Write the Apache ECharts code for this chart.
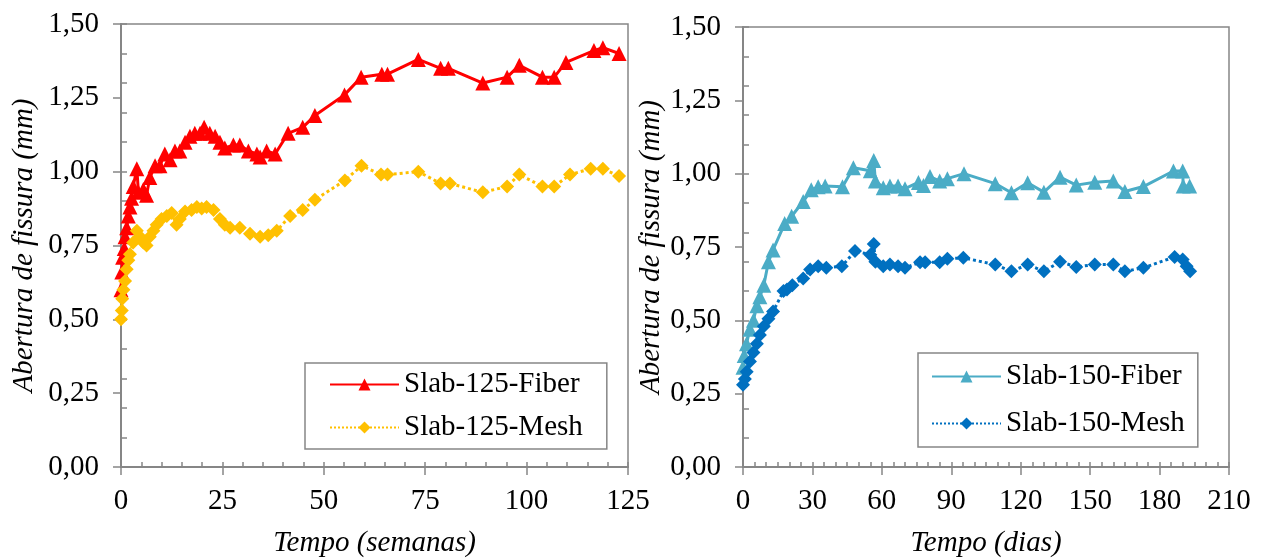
<!DOCTYPE html>
<html>
<head>
<meta charset="utf-8">
<script src="https://cdn.jsdelivr.net/npm/echarts@6/dist/echarts.min.js"></script>
<style>
  html, body { margin: 0; padding: 0; background: #fff; }
  #chart { width: 1264px; height: 558px; }
</style>
</head>
<body>
<div id="chart"></div>
<script>
// Slab-125: crack opening (mm) vs time (weeks)
const weeks125Fiber = [0, 0.2, 0.4, 0.8, 1.0, 1.4, 1.8, 2.2, 2.6, 3.0, 3.9, 4.3, 5.5, 6.3, 7.1, 8.4, 9.6, 10.8, 12.1, 13.3, 14.5, 15.8, 17.0, 18.2, 19.5, 20.5, 21.9, 23.2, 24.4, 25.6, 27.7, 29.3, 31.4, 33.5, 34.3, 35.9, 38.0, 41.2, 44.8, 47.8, 55.1, 59.2, 64.3, 65.7, 73.3, 78.8, 80.7, 89.2, 95.2, 98.2, 103.9, 106.8, 109.7, 116.6, 118.8, 122.8];
const crack125Fiber = [0.60, 0.66, 0.71, 0.74, 0.78, 0.81, 0.85, 0.88, 0.91, 0.95, 1.01, 0.93, 0.94, 0.92, 0.98, 1.02, 1.02, 1.06, 1.04, 1.07, 1.07, 1.10, 1.12, 1.13, 1.13, 1.15, 1.13, 1.12, 1.10, 1.08, 1.09, 1.09, 1.07, 1.06, 1.05, 1.07, 1.06, 1.13, 1.15, 1.19, 1.26, 1.32, 1.33, 1.33, 1.38, 1.35, 1.35, 1.30, 1.32, 1.36, 1.32, 1.32, 1.37, 1.41, 1.42, 1.40];

const weeks125Mesh = [0, 0.2, 0.3, 0.6, 1.0, 1.4, 1.8, 2.2, 3.0, 3.9, 4.7, 5.5, 6.3, 7.1, 8.0, 8.8, 10.0, 11.3, 12.5, 13.7, 14.5, 15.8, 17.4, 18.7, 19.9, 21.1, 22.8, 24.4, 25.6, 26.9, 29.3, 31.8, 34.3, 36.3, 38.4, 41.7, 44.8, 47.8, 55.2, 59.3, 64.1, 65.7, 73.3, 78.8, 81.1, 89.2, 95.2, 98.2, 103.9, 106.8, 110.7, 115.8, 118.8, 122.8];
const crack125Mesh = [0.50, 0.53, 0.57, 0.60, 0.63, 0.67, 0.70, 0.72, 0.76, 0.80, 0.78, 0.76, 0.75, 0.78, 0.80, 0.82, 0.84, 0.85, 0.86, 0.82, 0.84, 0.865, 0.87, 0.88, 0.875, 0.88, 0.87, 0.84, 0.82, 0.81, 0.81, 0.79, 0.78, 0.785, 0.80, 0.85, 0.87, 0.905, 0.97, 1.02, 0.99, 0.99, 1.00, 0.96, 0.96, 0.93, 0.95, 0.99, 0.95, 0.95, 0.99, 1.01, 1.01, 0.985];

// Slab-150: crack opening (mm) vs time (days)
const days150Fiber = [0, 0.5, 1.5, 3.0, 4.5, 6.0, 7.3, 9.0, 11.0, 13.0, 18.0, 21.0, 26.0, 29.5, 32.5, 35.5, 43.0, 47.7, 55.0, 56.5, 57.2, 60.6, 63.5, 67.0, 70.0, 75.8, 78.0, 80.8, 85.0, 88.3, 95.5, 109.0, 116.0, 123.0, 130.0, 137.0, 144.0, 152.0, 160.0, 165.0, 173.0, 186.0, 190.0, 190.2, 193.0];
const crack150Fiber = [0.34, 0.38, 0.42, 0.47, 0.50, 0.55, 0.58, 0.62, 0.70, 0.74, 0.83, 0.855, 0.905, 0.945, 0.955, 0.958, 0.955, 1.02, 1.01, 1.045, 0.975, 0.952, 0.958, 0.958, 0.949, 0.97, 0.96, 0.99, 0.975, 0.983, 1.00, 0.966, 0.935, 0.969, 0.937, 0.988, 0.961, 0.971, 0.975, 0.939, 0.956, 1.009, 1.009, 0.958, 0.958];

const days150Mesh = [0, 0.8, 1.6, 3.0, 4.5, 6.0, 7.3, 9.0, 11.0, 13.0, 17.5, 19.0, 21.3, 26.0, 29.0, 32.5, 36.0, 42.7, 48.4, 55.0, 56.5, 57.2, 60.6, 63.5, 67.0, 70.0, 76.5, 78.7, 85.0, 88.3, 95.2, 109.0, 116.0, 123.0, 130.0, 137.0, 144.0, 152.0, 160.0, 165.0, 173.0, 186.5, 190.0, 191.7, 193.2];
const crack150Mesh = [0.28, 0.30, 0.325, 0.36, 0.39, 0.42, 0.45, 0.48, 0.505, 0.53, 0.60, 0.605, 0.62, 0.643, 0.673, 0.684, 0.679, 0.684, 0.736, 0.724, 0.76, 0.70, 0.684, 0.69, 0.684, 0.679, 0.698, 0.698, 0.698, 0.71, 0.713, 0.69, 0.667, 0.69, 0.667, 0.70, 0.682, 0.69, 0.69, 0.667, 0.679, 0.716, 0.707, 0.684, 0.667];

const seriesNames = ['Slab-125-Fiber', 'Slab-125-Mesh', 'Slab-150-Fiber', 'Slab-150-Mesh'];
const axisTitles = { weeks: 'Tempo (semanas)', days: 'Tempo (dias)', crack: 'Abertura de fissura (mm)' };

const FONT = '"Liberation Serif", "Times New Roman", serif';
const FS = 29;
const GRAY = '#868686';

function pairs(xs, ys) { return xs.map((x, i) => [x, ys[i]]); }
const fmtY = v => v.toFixed(2).replace('.', ',');

function mainX(grid, max, interval, name) {
  return {
    type: 'value', gridIndex: grid, min: 0, max: max, interval: interval, position: 'bottom',
    name: name, nameLocation: 'middle', nameGap: 62,
    nameTextStyle: { fontFamily: FONT, fontSize: FS, fontStyle: 'italic', color: '#000' },
    axisLine: { show: true, onZero: false, lineStyle: { color: GRAY, width: 2 } },
    axisTick: { show: true, inside: false, length: 8, lineStyle: { color: GRAY, width: 1.5 } },
    axisLabel: { fontFamily: FONT, fontSize: FS, color: '#000', margin: 20 },
    splitLine: { show: false }
  };
}
function minorX(grid, max, step) {
  return {
    type: 'value', gridIndex: grid, min: 0, max: max, interval: step, position: 'bottom', offset: 0,
    axisLine: { show: false, onZero: false },
    axisTick: { show: true, inside: true, length: 5, lineStyle: { color: GRAY, width: 1.5 } },
    axisLabel: { show: false }, splitLine: { show: false }
  };
}
function mainY(grid, gap) {
  return {
    type: 'value', gridIndex: grid, min: 0, max: 1.5, interval: 0.25, position: 'left',
    name: axisTitles.crack, nameLocation: 'middle', nameGap: gap, nameRotate: 90,
    nameTextStyle: { fontFamily: FONT, fontSize: FS, fontStyle: 'italic', color: '#000' },
    axisLine: { show: true, onZero: false, lineStyle: { color: GRAY, width: 2 } },
    axisTick: { show: true, inside: false, length: 8, lineStyle: { color: GRAY, width: 1.5 } },
    axisLabel: { fontFamily: FONT, fontSize: FS, color: '#000', margin: 22, formatter: fmtY },
    splitLine: { show: false }
  };
}
function minorY(grid) {
  return {
    type: 'value', gridIndex: grid, min: 0, max: 1.5, interval: 0.1, position: 'left', offset: 0,
    axisLine: { show: false, onZero: false },
    axisTick: { show: true, inside: true, length: 6, lineStyle: { color: GRAY, width: 1.5 } },
    axisLabel: { show: false }, splitLine: { show: false }
  };
}
function fiberSeries(name, data, color, xi, yi) {
  return {
    type: 'line', name: name, data: data, xAxisIndex: xi, yAxisIndex: yi,
    symbol: 'triangle', symbolSize: 15, showAllSymbol: true,
    lineStyle: { color: color, width: 3 }, itemStyle: { color: color },
    z: 3
  };
}
function meshSeries(name, data, color, xi, yi) {
  return {
    type: 'line', name: name, data: data, xAxisIndex: xi, yAxisIndex: yi,
    symbol: 'diamond', symbolSize: 14, showAllSymbol: true,
    lineStyle: { color: color, width: 3, type: 'dotted' }, itemStyle: { color: color },
    z: 4
  };
}
function legendBox(names, left, top, padH, padV, gap) {
  return {
    data: names, orient: 'vertical', left: left, top: top,
    padding: [padV, padH, padV, padH], itemGap: gap, itemWidth: 69, itemHeight: 15,
    borderColor: GRAY, borderWidth: 1.5, backgroundColor: '#fff',
    textStyle: { fontFamily: FONT, fontSize: FS, color: '#000', lineHeight: 27 }
  };
}

const chart = echarts.init(document.getElementById('chart'), null, { renderer: 'canvas' });
chart.setOption({
  animation: false,
  backgroundColor: '#fff',
  grid: [
    { left: 121, right: 636, top: 24, bottom: 91, outerBoundsMode: 'none', show: true, borderColor: GRAY, borderWidth: 1.5, backgroundColor: 'transparent' },
    { left: 743, right: 35, top: 27, bottom: 91, outerBoundsMode: 'none', show: true, borderColor: GRAY, borderWidth: 1.5, backgroundColor: 'transparent' }
  ],
  xAxis: [
    mainX(0, 125, 25, axisTitles.weeks),
    minorX(0, 125, 5),
    mainX(1, 210, 30, axisTitles.days),
    minorX(1, 210, 5)
  ],
  yAxis: [
    mainY(0, 82),
    minorY(0),
    mainY(1, 77),
    minorY(1)
  ],
  legend: [
    legendBox([seriesNames[0], seriesNames[1]], 305, 363, 24, 7, 14),
    legendBox([seriesNames[2], seriesNames[3]], 918, 353, 13, 9, 18)
  ],
  series: [
    fiberSeries(seriesNames[0], pairs(weeks125Fiber, crack125Fiber), '#FF0000', 0, 0),
    meshSeries(seriesNames[1], pairs(weeks125Mesh, crack125Mesh), '#FFC000', 0, 0),
    fiberSeries(seriesNames[2], pairs(days150Fiber, crack150Fiber), '#4BACC6', 2, 2),
    meshSeries(seriesNames[3], pairs(days150Mesh, crack150Mesh), '#0070C0', 2, 2)
  ]
});
</script>
</body>
</html>
